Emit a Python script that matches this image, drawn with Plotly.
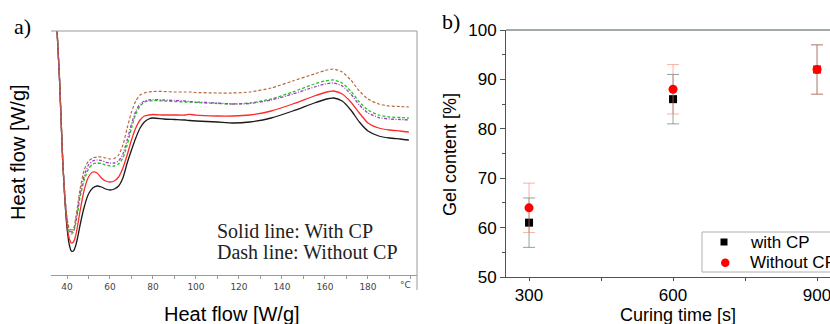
import plotly.graph_objects as go

# ---------------- data: panel a (DSC curves) ----------------
temperature = [35, 36.5, 38, 39, 40, 41, 42, 43, 44, 45, 46, 48, 50, 52, 54, 56, 58, 60, 62, 64,
               66, 68, 70, 72, 74, 76, 78, 80, 85, 90, 95, 97, 100, 110, 117, 125, 135, 145, 155,
               160, 164, 168, 172, 176, 180, 185, 190, 195, 199]
hf_black = [2.60, 1.97, 1.15, 0.75, 0.47, 0.31, 0.24, 0.24, 0.29, 0.38, 0.49, 0.68, 0.81, 0.87, 0.89,
            0.88, 0.86, 0.85, 0.86, 0.89, 0.97, 1.12, 1.25, 1.37, 1.47, 1.53, 1.56, 1.57, 1.56, 1.555,
            1.55, 1.545, 1.54, 1.53, 1.52, 1.53, 1.57, 1.64, 1.72, 1.755, 1.77, 1.74, 1.65, 1.53, 1.44,
            1.39, 1.37, 1.36, 1.35]
hf_red = [2.60, 1.97, 1.15, 0.77, 0.51, 0.37, 0.32, 0.33, 0.39, 0.50, 0.63, 0.85, 0.98, 1.03, 1.02,
          0.97, 0.94, 0.93, 0.94, 0.98, 1.07, 1.20, 1.35, 1.47, 1.55, 1.59, 1.60, 1.605, 1.60, 1.60,
          1.60, 1.607, 1.598, 1.59, 1.59, 1.60, 1.64, 1.71, 1.79, 1.825, 1.84, 1.81, 1.73, 1.62, 1.52,
          1.47, 1.45, 1.44, 1.43]
hf_green = [2.60, 1.97, 1.15, 0.79, 0.55, 0.44, 0.41, 0.43, 0.51, 0.63, 0.77, 0.95, 1.06, 1.11, 1.12,
            1.115, 1.10, 1.09, 1.09, 1.11, 1.17, 1.30, 1.47, 1.61, 1.69, 1.73, 1.74, 1.745, 1.74, 1.735,
            1.73, 1.73, 1.725, 1.715, 1.71, 1.72, 1.76, 1.83, 1.91, 1.94, 1.95, 1.92, 1.84, 1.73, 1.65,
            1.60, 1.58, 1.575, 1.57]
hf_purple = [2.60, 1.97, 1.15, 0.79, 0.56, 0.45, 0.43, 0.44, 0.53, 0.66, 0.80, 0.99, 1.10, 1.14, 1.15,
             1.145, 1.13, 1.12, 1.12, 1.14, 1.21, 1.35, 1.51, 1.64, 1.71, 1.74, 1.75, 1.755, 1.75, 1.745,
             1.74, 1.735, 1.73, 1.72, 1.71, 1.715, 1.75, 1.81, 1.88, 1.91, 1.92, 1.89, 1.81, 1.70, 1.62,
             1.575, 1.56, 1.555, 1.55]
hf_brown = [2.60, 1.97, 1.15, 0.80, 0.57, 0.47, 0.45, 0.46, 0.56, 0.70, 0.85, 1.05, 1.14, 1.17, 1.18,
            1.18, 1.17, 1.16, 1.165, 1.20, 1.30, 1.47, 1.63, 1.74, 1.80, 1.82, 1.83, 1.835, 1.835, 1.83,
            1.83, 1.83, 1.825, 1.82, 1.82, 1.83, 1.87, 1.94, 2.01, 2.045, 2.06, 2.03, 1.95, 1.84, 1.76,
            1.71, 1.69, 1.685, 1.68]
temp_ticks = [40, 60, 80, 100, 120, 140, 160, 180]

# ---------------- data: panel b (gel content) ----------------
curing_time = [300, 600, 900]
gel_with_cp = [61, 86, 92]
gel_with_cp_err = [5, 5, 5]
gel_without_cp = [64, 88, 92]
gel_without_cp_err = [5, 5, 5]
time_ticks = [300, 600, 900]
gel_ticks = [50, 60, 70, 80, 90, 100]
legend_names = ["with CP", "Without CP"]

W, H = 830, 324
def fx(x):
    return x / W
def fy(y):
    return 1 - y / H

fig = go.Figure()

curves = [
    (hf_black, dict(color="#1a1a1a", width=1.3)),
    (hf_red, dict(color="#ff2a2a", width=1.3)),
    (hf_green, dict(color="#22c422", width=1.3, dash="3px,2px")),
    (hf_purple, dict(color="#9a3fc0", width=1.3, dash="3px,1.5px,1px,1.5px")),
    (hf_brown, dict(color="#b8693e", width=1.2, dash="3px,2px")),
]
for ys, ln in curves:
    fig.add_trace(go.Scatter(x=temperature, y=ys, mode="lines", line=dict(shape="spline", smoothing=0.6, **ln),
                             xaxis="x", yaxis="y", showlegend=False, hoverinfo="skip"))

fig.add_trace(go.Scatter(
    x=curing_time, y=gel_with_cp, mode="markers", name=legend_names[0], showlegend=False,
    marker=dict(symbol="square", size=8, color=["#000000", "#000000", "#ff0000"]),
    error_y=dict(type="data", array=gel_with_cp_err, color="rgba(70,105,95,0.6)", thickness=1, width=6),
    xaxis="x2", yaxis="y2", cliponaxis=False))
fig.add_trace(go.Scatter(
    x=curing_time, y=gel_without_cp, mode="markers", name=legend_names[1], showlegend=False,
    marker=dict(symbol="circle", size=9, color="#ff0000"),
    error_y=dict(type="data", array=gel_without_cp_err, color="rgba(245,130,110,0.6)", thickness=1, width=6),
    xaxis="x2", yaxis="y2", cliponaxis=False))

grey = "#9a9a9a"
dark = "#4a5752"
fig.update_layout(
    width=W, height=H, margin=dict(l=0, r=0, t=0, b=0, autoexpand=False),
    paper_bgcolor="white", plot_bgcolor="white", showlegend=False,
    xaxis=dict(domain=[fx(51), fx(417)], range=[32.56, 202.8], tickvals=temp_ticks, automargin=False,
               showgrid=False, zeroline=False, showline=True, linecolor=grey, linewidth=1,
               ticks="outside", ticklen=3, tickcolor=grey,
               minor=dict(dtick=10, tick0=30, ticks="outside", ticklen=3, tickcolor=grey),
               tickfont=dict(family="DejaVu Sans", size=9, color="#444"), anchor="y"),
    yaxis=dict(domain=[fy(275), fy(31)], range=[0, 2.44], visible=False, anchor="x", automargin=False),
    xaxis2=dict(domain=[fx(506), 1.0], range=[252, 927], tickvals=time_ticks, automargin=False,
                showgrid=False, zeroline=False, showline=True, linecolor=dark, linewidth=1,
                ticks="outside", ticklen=3, tickcolor=dark, ticklabeloverflow="allow",
                minor=dict(tickvals=[450, 750], ticks="outside", ticklen=3, tickcolor=dark),
                tickfont=dict(family="Liberation Sans", size=17, color="black"), anchor="y2"),
    yaxis2=dict(domain=[fy(277), fy(30)], range=[50, 100], tickvals=gel_ticks, automargin=False,
                showgrid=False, zeroline=False, showline=True, linecolor=dark, linewidth=1,
                ticks="outside", ticklen=5, tickcolor=dark, ticklabeloverflow="allow",
                minor=dict(tickvals=[55, 65, 75, 85, 95], ticks="outside", ticklen=3, tickcolor=dark),
                tickfont=dict(family="Liberation Sans", size=17, color="black"), anchor="x2"),
)

shapes = [
    dict(type="line", xref="paper", yref="paper", x0=fx(51), x1=fx(417), y0=fy(31), y1=fy(31),
         line=dict(color=grey, width=1)),
    dict(type="line", xref="paper", yref="paper", x0=fx(417), x1=fx(417), y0=fy(31), y1=fy(290),
         line=dict(color=grey, width=1)),
    dict(type="line", xref="paper", yref="paper", x0=fx(506), x1=1.0, y0=fy(30), y1=fy(30),
         line=dict(color=dark, width=1)),
    # legend box and symbols
    dict(type="rect", xref="paper", yref="paper", x0=fx(702), x1=fx(845), y0=fy(272), y1=fy(232),
         line=dict(color="#b0b0b0", width=1), fillcolor="white", layer="above"),
    dict(type="rect", xref="paper", yref="paper", x0=fx(720.5), x1=fx(727.5), y0=fy(245.5), y1=fy(238.5),
         line=dict(width=0), fillcolor="#000000", layer="above"),
    dict(type="circle", xref="paper", yref="paper", x0=fx(721), x1=fx(729.5), y0=fy(267), y1=fy(258.5),
         line=dict(width=0), fillcolor="#ff0000", layer="above"),
]
fig.update_layout(shapes=shapes)

ann = [
    dict(text="a)", x=fx(12), y=fy(26), xanchor="left", yanchor="middle",
         font=dict(family="Liberation Serif", size=22, color="black")),
    dict(text="b)", x=fx(440), y=fy(22), xanchor="left", yanchor="middle",
         font=dict(family="Liberation Serif", size=22, color="black")),
    dict(text="Solid line: With CP", x=fx(215), y=fy(231), xanchor="left", yanchor="middle",
         font=dict(family="Liberation Serif", size=20, color="#222")),
    dict(text="Dash line: Without CP", x=fx(215), y=fy(252), xanchor="left", yanchor="middle",
         font=dict(family="Liberation Serif", size=20, color="#222")),
    dict(text="°C", x=fx(405), y=fy(285), xanchor="center", yanchor="middle",
         font=dict(family="DejaVu Sans", size=9, color="#444")),
    dict(text="Heat flow [W/g]", x=fx(232), y=fy(314), xanchor="center", yanchor="middle",
         font=dict(family="Liberation Sans", size=20, color="black")),
    dict(text="Heat flow [W/g]", x=fx(18), y=fy(152), xanchor="center", yanchor="middle", textangle=-90,
         font=dict(family="Liberation Sans", size=20, color="black")),
    dict(text="Gel content [%]", x=fx(450), y=fy(155), xanchor="center", yanchor="middle", textangle=-90,
         font=dict(family="Liberation Sans", size=18, color="black")),
    dict(text="Curing time [s]", x=fx(678), y=fy(315), xanchor="center", yanchor="middle",
         font=dict(family="Liberation Sans", size=18, color="black")),
    dict(text=legend_names[0], x=fx(748), y=fy(242), xanchor="left", yanchor="middle",
         font=dict(family="Liberation Sans", size=17, color="black")),
    dict(text=legend_names[1], x=fx(748), y=fy(262.5), xanchor="left", yanchor="middle",
         font=dict(family="Liberation Sans", size=17, color="black")),
]
for a in ann:
    a.update(xref="paper", yref="paper", showarrow=False)
fig.update_layout(annotations=ann)

fig.write_html("out.html", config={"displayModeBar": False},
               post_script="document.body.style.margin='0';document.body.style.overflow='hidden';")
